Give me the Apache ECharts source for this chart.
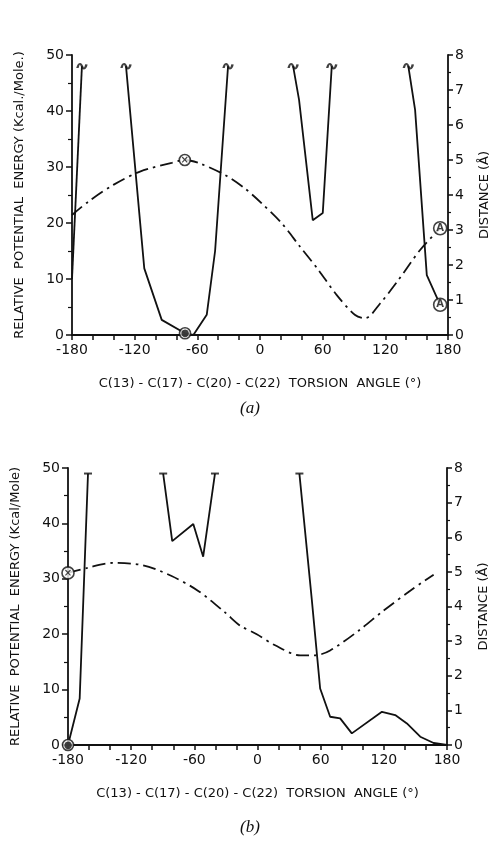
<!DOCTYPE html>
<html>
<head>
<meta charset="utf-8">
<title>Torsion angle energy and distance</title>
<script src="https://cdn.jsdelivr.net/npm/echarts@6/dist/echarts.min.js"></script>
<style>
  html, body { margin: 0; padding: 0; background: #fff; }
  #chart { width: 491px; height: 842px; }
</style>
</head>
<body>
<div id="chart"></div>
<script>
// Panel (a): energy segments [angle, kcal/mole], distance curve [angle, Å]
const energyA1 = [[-180, 10], [-170.5, 48]];
const energyA2 = [[-128.3, 48], [-110.8, 11.9], [-94.1, 2.7], [-71.8, 0.3], [-63.8, 0], [-51, 3.6], [-43, 15], [-30.6, 48]];
const energyA3 = [[31.7, 48], [37.4, 42], [50.5, 20.5], [60.1, 21.8], [68.7, 48]];
const energyA4 = [[142, 48], [148.5, 40.2], [159.7, 10.7], [172.5, 5.4]];
const distanceA = [[-180, 3.43], [-164.4, 3.81], [-140.4, 4.29], [-114.9, 4.67], [-84.5, 4.92], [-72, 5.0],
  [-57.4, 4.9], [-33.4, 4.57], [-15, 4.2], [1.7, 3.76], [20.9, 3.19], [38.4, 2.52], [55.9, 1.86],
  [73.5, 1.14], [91.1, 0.57], [100.7, 0.48], [115, 0.9], [132.5, 1.57], [153.3, 2.43], [172.5, 3.05]];
const offScaleA = [[-170.5, 48], [-128.3, 48], [-30.6, 48], [31.7, 48], [68.7, 48], [142, 48]];
const crossA = [[-72, 5.0]];        // on distance axis
const circleA = [[-71.8, 0.3]];     // on energy axis
const labelAEnergy = [[172.5, 5.4]];
const labelADistance = [[172.5, 3.05]];

// Panel (b)
const energyB1 = [[-180, 0], [-168.9, 8.4], [-161, 49]];
const energyB2 = [[-89.6, 49], [-81, 36.8], [-61, 39.9], [-51.6, 34], [-40.4, 49]];
const energyB3 = [[39.8, 49], [51.6, 26.2], [59.5, 10.2], [69, 5.1], [78.5, 4.8], [89.6, 2.1], [118.2, 6.0],
  [130.8, 5.4], [141.9, 3.9], [154.6, 1.5], [167.3, 0.36], [180, 0]];
const distanceB = [[-180, 4.97], [-162.5, 5.11], [-137.2, 5.26], [-108.6, 5.19], [-81.6, 4.88], [-56.3, 4.45],
  [-30.9, 3.83], [-16.6, 3.45], [-0.7, 3.2], [16.7, 2.88], [40.5, 2.59], [54.7, 2.59], [69, 2.73],
  [96, 3.3], [119.7, 3.88], [146.7, 4.49], [167.3, 4.92]];
const offScaleB = [[-161, 49], [-89.6, 49], [-40.4, 49], [39.8, 49]];
const crossB = [[-180, 4.97]];
const circleB = [[-180, 0]];

const xTicks = [-180, -120, -60, 0, 60, 120, 180];
const energyName = ['RELATIVE  POTENTIAL  ENERGY (Kcal./Mole.)', 'RELATIVE  POTENTIAL  ENERGY (Kcal/Mole)'];
const distanceName = 'DISTANCE (Å)';
const angleName = 'C(13) - C(17) - C(20) - C(22)  TORSION  ANGLE (°)';

const INK = '#111';
const FONT = 'DejaVu Sans';
const TILDE = 'path://M0,6 C2,0 5,0 7,4 C9,8 12,8 14,2';

function xAxis(idx) {
  return {
    type: 'value', gridIndex: idx, min: -180, max: 180, interval: 60,
    name: angleName, nameLocation: 'middle', nameGap: 42,
    nameTextStyle: { color: INK, fontFamily: FONT, fontSize: 13 },
    axisLine: { onZero: false, lineStyle: { color: INK, width: 1.8 } },
    axisTick: { length: 5, lineStyle: { color: INK, width: 1.5 } },
    minorTick: { show: true, splitNumber: 3, length: 5, lineStyle: { color: INK, width: 1.5 } },
    axisLabel: { color: INK, fontFamily: FONT, fontSize: 14, margin: 8,
      formatter: v => xTicks.includes(v) ? String(v) : '' },
    splitLine: { show: false }
  };
}

function energyAxis(idx) {
  return {
    type: 'value', gridIndex: idx, min: 0, max: 50, interval: 10, position: 'left',
    name: energyName[idx], nameLocation: 'middle', nameGap: 46, nameRotate: 90,
    nameTextStyle: { color: INK, fontFamily: FONT, fontSize: 13 },
    axisLine: { show: true, onZero: false, lineStyle: { color: INK, width: 1.8 } },
    axisTick: { show: true, length: 6, lineStyle: { color: INK, width: 1.5 } },
    minorTick: { show: true, splitNumber: 2, length: 4, lineStyle: { color: INK, width: 1.2 } },
    axisLabel: { color: INK, fontFamily: FONT, fontSize: 14, margin: 8 },
    splitLine: { show: false }
  };
}

function distanceAxis(idx) {
  return {
    type: 'value', gridIndex: idx, min: 0, max: 8, interval: 1, position: 'right',
    name: distanceName, nameLocation: 'middle', nameGap: 30, nameRotate: 90,
    nameTextStyle: { color: INK, fontFamily: FONT, fontSize: 13 },
    axisLine: { show: true, onZero: false, lineStyle: { color: INK, width: 1.8 } },
    axisTick: { show: true, length: 5, lineStyle: { color: INK, width: 1.5 } },
    minorTick: { show: true, splitNumber: 2, length: 3, lineStyle: { color: INK, width: 1.2 } },
    axisLabel: { color: INK, fontFamily: FONT, fontSize: 14, margin: 7 },
    splitLine: { show: false }
  };
}

function solid(data, xi, yi) {
  return { type: 'line', data, xAxisIndex: xi, yAxisIndex: yi, symbol: 'none', silent: true,
    lineStyle: { color: INK, width: 1.8 } };
}

function dashDot(data, xi, yi) {
  return { type: 'line', data, xAxisIndex: xi, yAxisIndex: yi, symbol: 'none', smooth: 0.3, silent: true,
    lineStyle: { color: INK, width: 1.8, type: [13, 5, 2.5, 5] } };
}

function marks(data, xi, yi, symbol, size, text, filled) {
  return {
    type: 'scatter', data, xAxisIndex: xi, yAxisIndex: yi, symbol, symbolSize: size, silent: true, z: 5,
    itemStyle: { color: filled ? INK : '#fff', borderColor: INK, borderWidth: filled ? 0 : 1.6 },
    label: { show: !!text, position: 'inside', formatter: text || '', color: INK,
      fontFamily: FONT, fontSize: 10, fontWeight: 'bold' }
  };
}

function tildes(data, xi, yi) {
  return {
    type: 'scatter', data, xAxisIndex: xi, yAxisIndex: yi, symbol: TILDE, symbolSize: [9, 5], silent: true,
    itemStyle: { color: 'none', borderColor: INK, borderWidth: 1.8 }
  };
}

const chart = echarts.init(document.getElementById('chart'), null, { renderer: 'canvas' });

chart.setOption({
  animation: false,
  title: [
    { text: '(a)', left: 245, top: 395, textAlign: 'center',
      textStyle: { fontFamily: 'Liberation Serif', fontStyle: 'italic', fontWeight: 'normal', fontSize: 17, color: INK } },
    { text: '(b)', left: 245, top: 814, textAlign: 'center',
      textStyle: { fontFamily: 'Liberation Serif', fontStyle: 'italic', fontWeight: 'normal', fontSize: 17, color: INK } }
  ],
  grid: [
    { left: 72, right: 43, top: 55, height: 280, outerBoundsMode: 'none' },
    { left: 68, right: 44, top: 468, height: 277, outerBoundsMode: 'none' }
  ],
  xAxis: [xAxis(0), xAxis(1)],
  yAxis: [energyAxis(0), distanceAxis(0), energyAxis(1), distanceAxis(1)],
  series: [
    solid(energyA1, 0, 0), solid(energyA2, 0, 0), solid(energyA3, 0, 0), solid(energyA4, 0, 0),
    dashDot(distanceA, 0, 1),
    tildes(offScaleA, 0, 0),
    marks(crossA, 0, 1, 'circle', 11, '×'),
    marks(circleA, 0, 0, 'circle', 11, '●'),
    marks(labelAEnergy, 0, 0, 'circle', 13, 'A'),
    marks(labelADistance, 0, 1, 'circle', 13, 'A'),

    solid(energyB1, 1, 2), solid(energyB2, 1, 2), solid(energyB3, 1, 2),
    dashDot(distanceB, 1, 3),
    marks(offScaleB, 1, 2, 'rect', [8, 2], '', true),
    marks(crossB, 1, 3, 'circle', 12, '×'),
    marks(circleB, 1, 2, 'circle', 11, '●')
  ]
});
</script>
</body>
</html>
